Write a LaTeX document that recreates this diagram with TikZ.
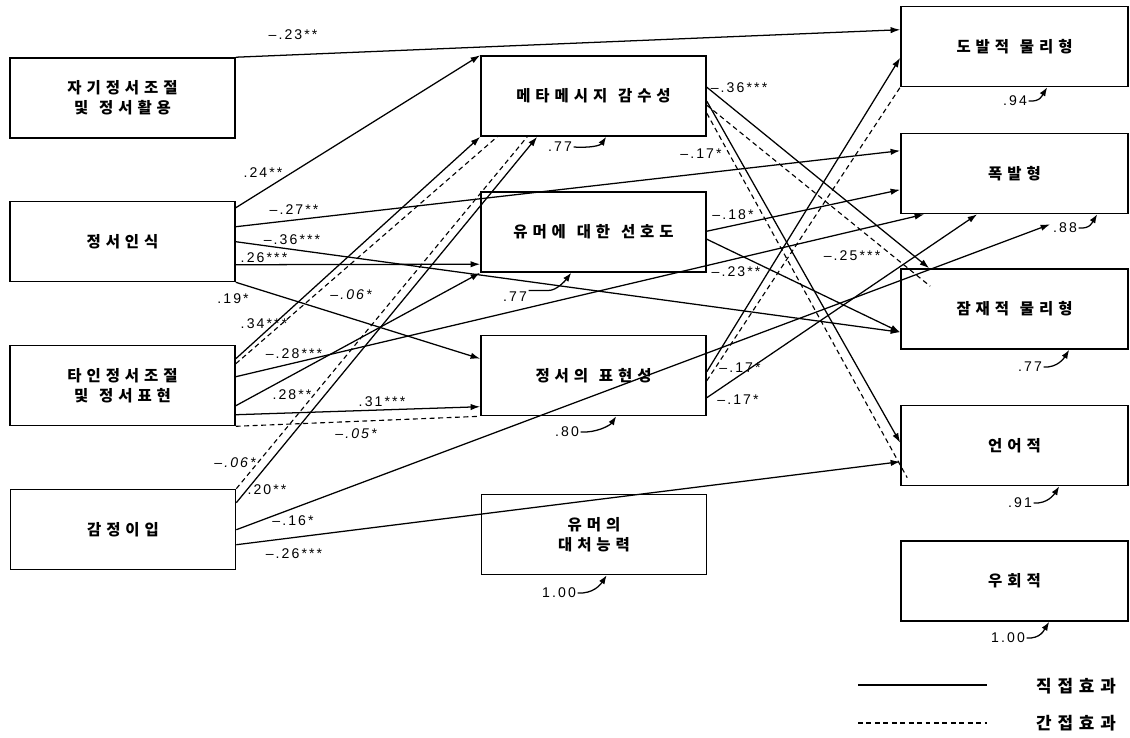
\documentclass[tikz,border=0pt]{standalone}
\usepackage{fontspec}
\setmainfont{Liberation Sans}
\newfontfamily\krfont[LetterSpace=32]{Noto Sans CJK KR}
\newfontfamily\krleg[LetterSpace=35]{Noto Sans CJK KR}
\newfontfamily\numfont[LetterSpace=15]{Liberation Sans}
\newcommand\wgap{\kern 0.7em\relax}
\usetikzlibrary{arrows.meta,calc}

\begin{document}
\begin{tikzpicture}[
    x=0.025cm, y=-0.025cm,
    box/.style={draw, line width=1.1pt, minimum width=5.625cm, minimum height=2cm,
        inner sep=0pt, align=center, font=\krfont\bfseries\fontsize{11}{13}\selectfont},
    arr/.style={-{Latex[length=2.4mm, width=1.6mm]}, line width=0.9pt},
    ind/.style={line width=0.8pt, dash pattern=on 3.5pt off 2.5pt},
    coef/.style={font=\numfont, inner sep=1pt},
    icoef/.style={font=\numfont\itshape, inner sep=1pt},
    res/.style={-{Latex[length=2.2mm, width=1.6mm]}, line width=0.9pt},
    leg/.style={font=\krleg\bfseries\fontsize{12}{14}\selectfont},
]
\useasboundingbox (0,0) rectangle (1130,737);

% --- Predictors (left) ---
\node[box] (a1) at (122.5,98) {자기정서조절\\[1pt]및\wgap 정서활용};
\node[box] (a2) at (122.5,241.5) {정서인식};
\node[box] (a3) at (122.5,385.5) {타인정서조절\\[1pt]및\wgap 정서표현};
\node[box] (a4) at (123,529.5) {감정이입};

% --- Humor (middle) ---
\node[box] (m1) at (593.5,96) {메타메시지\wgap 감수성};
\node[box] (m2) at (593.5,232) {유머에\wgap 대한\wgap 선호도};
\node[box] (m3) at (593.5,375.5) {정서의\wgap 표현성};
\node[box] (m4) at (594,534.5) {유머의\\[1pt]대처능력};

% --- Aggression types (right) ---
\node[box, minimum width=5.675cm] (r1) at (1014.5,46.5) {도발적\wgap 물리형};
\node[box, minimum width=5.675cm] (r2) at (1014.5,173.5) {폭발형};
\node[box, minimum width=5.675cm] (r3) at (1014.5,309) {잠재적\wgap 물리형};
\node[box, minimum width=5.675cm] (r4) at (1014.5,445.5) {언어적};
\node[box, minimum width=5.675cm] (r5) at (1014.5,581) {우회적};

% paths from the left column
\draw[arr] (a1.north east) -- ($(r1.north west)+(0,24)$);
\draw[arr] ($(a2.north east)+(0,7)$) -- (m1.north west);
\draw[arr] ($(a2.north east)+(0,26)$) -- ($(r2.north west)+(0,18)$);
\draw[arr] ($(a2.north east)+(0,41)$) -- ($(r3.north west)+(0,64)$);
\draw[arr] ($(a2.north east)+(0,64)$) -- ($(m2.north west)+(0,73)$);
\draw[arr] (a2.south east) -- ($(m3.north west)+(0,24)$);

\draw[arr] ($(a3.north east)+(0,14)$) -- (m1.south west);
\draw[ind] ($(a3.north east)+(0,19)$) -- ($(m1.south west)+(17,0)$);
\draw[arr] ($(a3.north east)+(0,32)$) -- ($(r2.south west)+(24,0)$);
\draw[arr] ($(a3.north east)+(0,61)$) -- (m2.south west);
\draw[arr] ($(a3.north east)+(0,70)$) -- ($(m3.north west)+(0,72)$);
\draw[ind] (a3.south east) -- (m3.south west);

\draw[ind] (a4.north east) -- ($(m1.south west)+(47,0)$);
\draw[arr] ($(a4.north east)+(0,14)$) -- ($(m1.south west)+(57,0)$);
\draw[arr] ($(a4.north east)+(0,41)$) -- ($(r2.south west)+(150,10)$);
\draw[arr] ($(a4.north east)+(0,56)$) -- ($(r4.north west)+(0,57)$);

% paths from the middle column
\draw[arr] ($(m1.north east)+(0,32)$) -- ($(r3.north west)+(29,0)$);
\draw[ind] ($(m1.north east)+(0,50)$) -- ($(r3.north west)+(30,18)$);
\draw[arr] ($(m1.north east)+(0,46)$) -- ($(r4.north west)+(0,38)$);
\draw[ind] ($(m1.north east)+(0,58)$) -- ($(r4.north west)+(7,73)$);

\draw[arr] ($(m2.north east)+(0,40)$) -- ($(r2.north west)+(0,57)$);
\draw[arr] ($(m2.north east)+(0,48)$) -- ($(r3.north west)+(0,64)$);

\draw[arr] ($(m3.north east)+(0,37)$) -- ($(r1.north west)+(0,52)$);
\draw[ind] ($(m3.north east)+(0,46)$) -- (r1.south west);
\draw[arr] ($(m3.north east)+(0,63)$) -- ($(r2.south west)+(77,0)$);

% coefficients
\node[coef] (c1) at (293,35) {–.23**};
\node[coef] (c2) at (263,173) {.24**};
\node[coef] (c3) at (294,210) {–.27**};
\node[coef] (c4) at (292,240) {–.36***};
\node[coef] (c5) at (264,258) {.26***};
\node[coef] (c6) at (233,299) {.19*};
\node[coef] (c7) at (264,324) {.34***};
\node[icoef] (c8) at (351,295) {–.06*};
\node[coef] (c9) at (294,354) {–.28***};
\node[coef] (c10) at (292,395) {.28**};
\node[coef] (c11) at (382,402) {.31***};
\node[icoef] (c12) at (356,434) {–.05*};
\node[icoef] (c13) at (235,463) {–.06*};
\node[coef] (c14) at (267,490) {.20**};
\node[coef] (c15) at (293,521) {–.16*};
\node[coef] (c16) at (294,554) {–.26***};
\node[coef] (c17) at (739,88) {–.36***};
\node[coef] (c18) at (701,154) {–.17*};
\node[coef] (c19) at (733,215) {–.18*};
\node[coef] (c20) at (736,272) {–.23**};
\node[coef] (c21) at (852,256) {–.25***};
\node[coef] (c22) at (740,368) {–.17*};
\node[coef] (c23) at (738,400) {–.17*};

% residuals
\node[coef] (e1) at (560,147) {.77};
\draw[res] (e1.east) .. controls +(16,1) and +(-6,9) .. ($(m1.south west)+(126,0)$);
\node[coef] (e2) at (515,297) {.77};
\draw[res] (e2.north east) -- ++(20,0) .. controls +(8,0) and +(-6,8) .. ($(m2.south west)+(91,0)$);
\node[coef] (e3) at (567,432) {.80};
\draw[res] (e3.east) .. controls +(16,1) and +(-6,9) .. ($(m3.south west)+(136,0)$);
\node[coef] (e4) at (559,593) {1.00};
\draw[res] (e4.east) .. controls +(16,1) and +(-6,9) .. ($(m4.south west)+(126,0)$);
\node[coef] (e5) at (1015,101) {.94};
\draw[res] (e5.east) .. controls +(12,1) and +(-5,8) .. ($(r1.south west)+(147,0)$);
\node[coef] (e6) at (1065,228) {.88};
\draw[res] (e6.east) .. controls +(12,1) and +(-5,8) .. ($(r2.south west)+(197,0)$);
\node[coef] (e7) at (1030,367) {.77};
\draw[res] (e7.east) .. controls +(14,1) and +(-5,8) .. ($(r3.south west)+(169,0)$);
\node[coef] (e8) at (1020,503) {.91};
\draw[res] (e8.east) .. controls +(14,1) and +(-5,8) .. ($(r4.south west)+(159,0)$);
\node[coef] (e9) at (1008,638) {1.00};
\draw[res] (e9.east) .. controls +(14,1) and +(-5,8) .. ($(r5.south west)+(149,0)$);

% --- Legend ---
\coordinate (la) at (858,685);
\coordinate (lb) at (987,685);
\draw[line width=0.9pt] (la) -- (lb);
\node[leg] (l1) at (1076,686) {직접효과};
\coordinate (lc) at (858,723);
\coordinate (ld) at (987,723);
\draw[ind] (lc) -- (ld);
\node[leg] (l2) at (1076,723) {간접효과};

\end{tikzpicture}
\end{document}
